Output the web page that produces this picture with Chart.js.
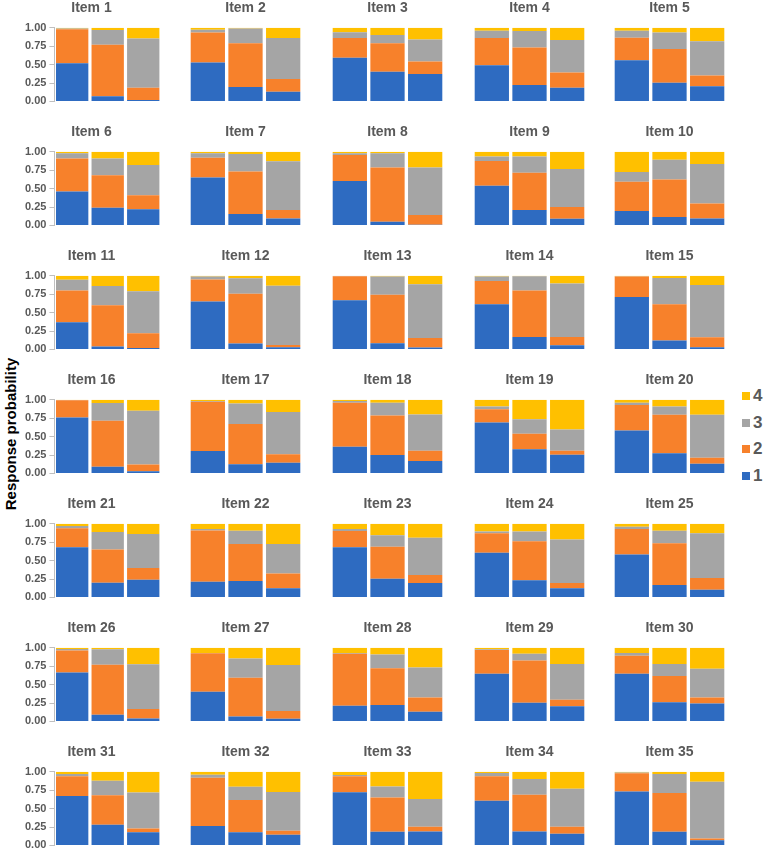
<!DOCTYPE html>
<html>
<head>
<meta charset="utf-8">
<script src="https://cdn.jsdelivr.net/npm/chart.js@4.4.0/dist/chart.umd.min.js"></script>
<style>
  body { margin: 0; background: #fff; width: 767px; height: 850px; position: relative; overflow: hidden; font-family: "Liberation Sans", Arial, sans-serif; }
  canvas { position: absolute; }
  #ylab { position: absolute; left: 10px; top: 434px; transform: translate(-50%, -50%) rotate(-90deg); font-weight: bold; font-size: 15px; white-space: nowrap; color: #000; }
  .leg { position: absolute; left: 742px; font-size: 17px; line-height: 18px; height: 18px; color: #595959; font-weight: bold; }
  .leg span { display: inline-block; width: 8px; height: 8px; margin-right: 3px; vertical-align: 1px; }
</style>
</head>
<body>
<div id="ylab">Response probability</div>
<script>
// response levels and colours
const levels = ['1', '2', '3', '4'];
const colors = ['#2E6BC1', '#F7812B', '#A5A5A5', '#FFC000'];
const groups = ['g1', 'g2', 'g3'];
const tickValues = [0, 0.25, 0.5, 0.75, 1];
const items = [];
for (let i = 1; i <= 35; i++) items.push('Item ' + i);

// probability of each response level, per item, for the three groups
const cat1 = [
  [.52, .07, .02], [.525, .19, .125], [.59, .40, .37], [.49, .22, .18], [.555, .25, .20],
  [.46, .24, .22], [.65, .15, .09], [.60, .045, .005], [.535, .205, .085], [.19, .11, .09],
  [.37, .04, .02], [.65, .075, .025], [.665, .08, .02], [.61, .165, .05], [.71, .115, .025],
  [.76, .09, .03], [.30, .12, .14], [.36, .245, .165], [.69, .325, .25], [.58, .27, .125],
  [.68, .20, .24], [.21, .22, .12], [.68, .25, .19], [.605, .23, .12], [.58, .165, .10],
  [.665, .09, .04], [.40, .06, .03], [.21, .22, .125], [.645, .25, .20], [.645, .255, .24],
  [.67, .28, .18], [.26, .175, .14], [.72, .18, .185], [.605, .185, .155], [.73, .18, .065]
];
const cat2 = [
  [.46, .70, .165], [.41, .60, .175], [.27, .39, .17], [.37, .51, .21], [.31, .46, .15],
  [.45, .44, .19], [.27, .58, .115], [.355, .74, .13], [.34, .51, .16], [.40, .51, .205],
  [.43, .56, .20], [.30, .68, .03], [.33, .66, .13], [.32, .635, .115], [.28, .495, .135],
  [.235, .625, .09], [.675, .55, .115], [.60, .54, .14], [.18, .21, .055], [.35, .525, .085],
  [.26, .45, .16], [.70, .505, .20], [.22, .435, .11], [.265, .53, .07], [.35, .57, .16],
  [.30, .68, .13], [.525, .53, .105], [.71, .50, .195], [.325, .575, .09], [.245, .36, .08],
  [.27, .40, .05], [.66, .44, .055], [.22, .47, .065], [.335, .50, .095], [.25, .53, .025]
];
const cat3 = [
  [.01, .20, .67], [.04, .20, .56], [.08, .11, .30], [.10, .225, .445], [.095, .225, .465],
  [.07, .23, .41], [.06, .24, .665], [.025, .195, .65], [.06, .22, .52], [.135, .27, .54],
  [.145, .26, .57], [.04, .21, .81], [.005, .25, .735], [.06, .195, .73], [.005, .36, .715],
  [.003, .24, .73], [.01, .28, .58], [.025, .175, .495], [.04, .20, .29], [.03, .115, .585],
  [.03, .24, .46], [.02, .18, .405], [.03, .16, .51], [.025, .135, .595], [.03, .17, .61],
  [.02, .21, .605], [.005, .265, .63], [.01, .19, .41], [.01, .095, .49], [.04, .165, .395],
  [.03, .20, .49], [.04, .18, .53], [.015, .15, .38], [.045, .215, .52], [.01, .26, .775]
];
const cat4 = [
  [.01, .03, .145], [.025, .01, .14], [.06, .10, .16], [.04, .045, .165], [.04, .065, .185],
  [.02, .09, .18], [.02, .03, .13], [.02, .02, .215], [.065, .065, .235], [.275, .11, .165],
  [.055, .14, .21], [.01, .035, .135], [0, .01, .115], [.01, .005, .105], [.005, .03, .125],
  [.002, .045, .15], [.015, .05, .165], [.015, .04, .20], [.09, .265, .405], [.04, .09, .205],
  [.03, .11, .14], [.07, .095, .275], [.07, .155, .19], [.105, .105, .215], [.04, .095, .13],
  [.015, .02, .225], [.07, .145, .235], [.07, .09, .27], [.02, .08, .22], [.07, .22, .285],
  [.03, .12, .28], [.04, .205, .275], [.045, .20, .37], [.015, .10, .23], [.01, .03, .135]
];
const series = [cat1, cat2, cat3, cat4];

// panel grid
const colLeft = [53, 189, 331, 473, 613];
const colWidth = [108, 113, 113, 113, 113];
const rowTop0 = 28, rowStep = 124, plotH = 73, titleH = 28;

items.forEach((name, i) => {
  const r = Math.floor(i / 5), c = i % 5;
  const first = c === 0;
  const padL = first ? 31 : 2;
  const padR = first ? 7 : 2;
  const cv = document.createElement('canvas');
  cv.width = colWidth[c] + padL + padR;
  cv.height = titleH + plotH + (first ? 10 : 8);
  cv.style.left = (colLeft[c] - padL) + 'px';
  cv.style.top = (rowTop0 + r * rowStep - titleH) + 'px';
  document.body.appendChild(cv);

  new Chart(cv, {
    type: 'bar',
    data: {
      labels: groups,
      datasets: levels.map((lv, k) => ({
        label: lv,
        data: series[k][i],
        backgroundColor: colors[k],
        borderWidth: 0,
        barPercentage: 0.91,
        categoryPercentage: 1.0
      }))
    },
    options: {
      responsive: false,
      animation: false,
      layout: { padding: first ? { left: 0, right: padR, bottom: 1 } : { left: 2, right: 2, bottom: 8 } },
      plugins: {
        legend: { display: false },
        tooltip: { enabled: false },
        title: {
          display: true,
          text: name,
          color: '#595959',
          font: { size: 14, weight: 'bold', family: '"Liberation Sans", Arial, sans-serif' },
          padding: { top: 0, bottom: 11 }
        }
      },
      scales: {
        x: { stacked: true, display: false },
        y: {
          stacked: true,
          min: 0,
          max: 1,
          display: first,
          afterBuildTicks: s => { s.ticks = tickValues.map(v => ({ value: v })); },
          ticks: {
            callback: v => v.toFixed(2),
            color: '#595959',
            padding: 3,
            font: { size: 11, weight: 'bold', family: '"Liberation Sans", Arial, sans-serif' }
          },
          grid: { drawOnChartArea: false, drawTicks: true, tickLength: 5, color: '#BFBFBF' },
          border: { display: true, color: '#BFBFBF' }
        }
      }
    }
  });
});

// legend, top level first
const legendCentre = [396, 423, 449, 476];
levels.slice().reverse().forEach((lv, j) => {
  const k = levels.length - 1 - j;
  const d = document.createElement('div');
  d.className = 'leg';
  d.style.top = (legendCentre[j] - 9) + 'px';
  d.innerHTML = '<span style="background:' + colors[k] + '"></span>' + lv;
  document.body.appendChild(d);
});
</script>
</body>
</html>
